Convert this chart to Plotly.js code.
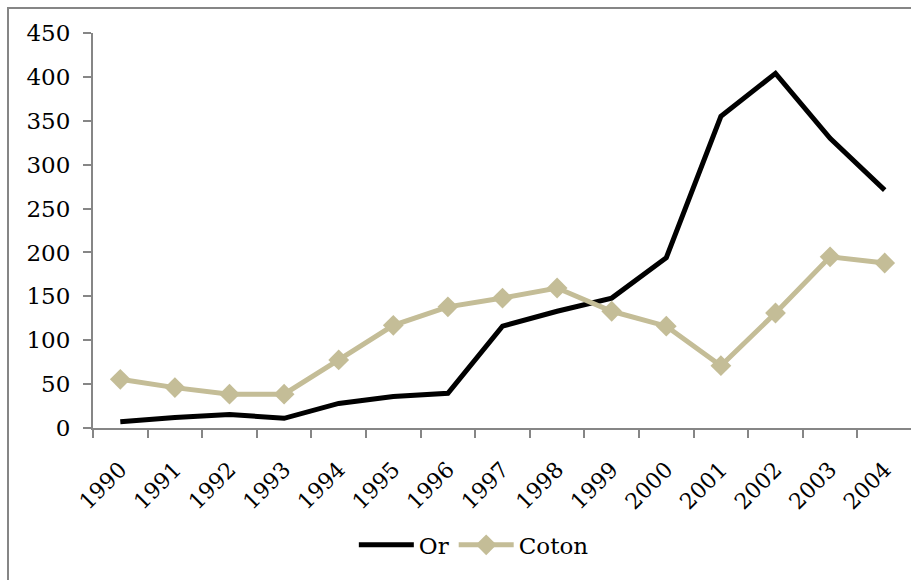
<!DOCTYPE html>
<html>
<head>
<meta charset="utf-8">
<script src="https://cdn.plot.ly/plotly-3.0.1.min.js"></script>
<style>
html,body{margin:0;padding:0;overflow:hidden;background:#fff;}
#chart{width:930px;height:600px;}
</style>
</head>
<body>
<div id="chart"></div>
<script>
const years = ["1990","1991","1992","1993","1994","1995","1996","1997","1998","1999","2000","2001","2002","2003","2004"];
const orValues = [7, 12, 15.5, 11, 28, 36, 39.5, 116, 133, 148, 194, 355, 404, 330, 271];
const cotonValues = [55.5, 46, 38.5, 38.5, 77.5, 117, 138, 148, 159.5, 133, 116, 71, 131, 195, 188];
const yTicks = [0, 50, 100, 150, 200, 250, 300, 350, 400, 450];

const fontFam = "DejaVu Serif, Liberation Serif, serif";
const traces = [
  {x: years, y: orValues, name: "Or", type: "scatter", mode: "lines",
   line: {color: "#000000", width: 5}},
  {x: years, y: cotonValues, name: "Coton", type: "scatter", mode: "lines+markers",
   line: {color: "#C4BD97", width: 5},
   marker: {symbol: "diamond", size: 16, color: "#C4BD97"}}
];
const layout = {
  width: 930, height: 600,
  margin: {l: 93, r: 18, t: 33, b: 172},
  paper_bgcolor: "#ffffff", plot_bgcolor: "#ffffff",
  font: {family: fontFam, size: 23, color: "#000000"},
  showlegend: true,
  legend: {orientation: "h", x: 0.465, xanchor: "center", y: -0.296, yanchor: "middle",
           font: {family: fontFam, size: 23, color: "#000"}, itemwidth: 55, traceorder: "normal"},
  xaxis: {type: "category", range: [-0.5, 14.5], showgrid: false, zeroline: false,
          showline: true, linecolor: "#868686", linewidth: 2,
          ticks: "outside", tickson: "boundaries", ticklen: 8, tickcolor: "#868686", tickwidth: 2,
          tickangle: -45, ticklabelstandoff: 18, tickfont: {family: fontFam, size: 22}},
  yaxis: {range: [0, 450], tickvals: yTicks, showgrid: false, zeroline: false,
          showline: true, linecolor: "#868686", linewidth: 2,
          ticks: "outside", ticklen: 8, tickcolor: "#868686", tickwidth: 2,
          ticklabelstandoff: 8, tickfont: {family: fontFam, size: 23}},
  shapes: [
    {type: "rect", xref: "paper", yref: "paper",
     x0: (8 - 93) / 819, x1: (922 - 93) / 819,
     y0: (428 - 592) / 395, y1: (428 - 8) / 395,
     line: {color: "#868686", width: 2}, fillcolor: "rgba(0,0,0,0)", layer: "below"}
  ],
  hovermode: false
};
Plotly.newPlot("chart", traces, layout, {displayModeBar: false, staticPlot: true});
</script>
</body>
</html>
